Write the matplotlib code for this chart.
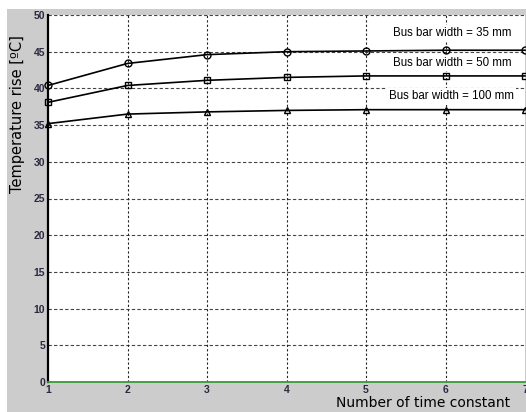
import numpy as np
import matplotlib
matplotlib.use('Agg')
from matplotlib import pyplot as plt
from matplotlib.patches import Rectangle

n_tau = [1, 2, 3, 4, 5, 6, 7]
rise_35 = [40.4, 43.4, 44.6, 45.0, 45.1, 45.2, 45.2]
rise_50 = [38.1, 40.4, 41.1, 41.5, 41.7, 41.7, 41.7]
rise_100 = [35.2, 36.5, 36.8, 37.0, 37.1, 37.1, 37.1]
labels = ['Bus bar width = 35 mm', 'Bus bar width = 50 mm', 'Bus bar width = 100 mm']
label_pos = [(6.08, 47.5), (6.08, 43.5), (6.07, 38.9)]
yticks = [0, 5, 10, 15, 20, 25, 30, 35, 40, 45, 50]

fig = plt.figure(figsize=(5.26, 4.12), dpi=100)
fig.patches.append(Rectangle((7/526, 0), 1, 1 - 9/412, transform=fig.transFigure,
                             facecolor='#cccccc', edgecolor='none', zorder=-10))
ax = fig.add_axes([48/526, 1 - 382/412, 477/526, 367/412])

ax.plot(n_tau, rise_35, '-o', color='k', lw=1.2, ms=5, mfc='none', mew=1.0, clip_on=False, zorder=3)
ax.plot(n_tau, rise_50, '-s', color='k', lw=1.2, ms=5, mfc='none', mew=1.0, clip_on=False, zorder=3)
ax.plot(n_tau, rise_100, '-^', color='k', lw=1.2, ms=5, mfc='none', mew=1.0, clip_on=False, zorder=3)

ax.set_xlim(1, 7)
ax.set_ylim(0, 50)
ax.set_yticks(yticks)
ax.set_xticks(n_tau)

for y in yticks[1:]:
    ax.axhline(y, color='#444444', lw=0.8, ls=(0, (3, 2)), zorder=1)
for x in n_tau[1:-1]:
    ax.axvline(x, color='#222222', lw=0.8, ls=(0, (2, 2)), zorder=1)

for (x, y), t in zip(label_pos, labels):
    ax.text(x, y, t, ha='center', va='center', fontsize=8.3,
            family='Liberation Sans',
            bbox=dict(facecolor='white', edgecolor='none', pad=1.5), zorder=4)

ax.spines['top'].set_visible(False)
ax.spines['right'].set_visible(False)
ax.spines['left'].set_linewidth(1.6)
ax.spines['bottom'].set_color('#3a9a3a')
ax.spines['bottom'].set_linewidth(1.3)
ax.tick_params(length=0, labelsize=7.5, labelcolor='#2a2a40', pad=2)
for lab in ax.get_xticklabels() + ax.get_yticklabels():
    lab.set_fontweight('bold')
    lab.set_family('Liberation Sans')

fig.text(18/526, 1 - 114/412, 'Temperature rise [ºC]', rotation=90, ha='center', va='center',
         fontsize=10.5, family='DejaVu Sans')
fig.text(510/526, 1 - 403/412, 'Number of time constant', ha='right', va='center',
         fontsize=10, family='DejaVu Sans')

fig.savefig('out.png', dpi=100)
